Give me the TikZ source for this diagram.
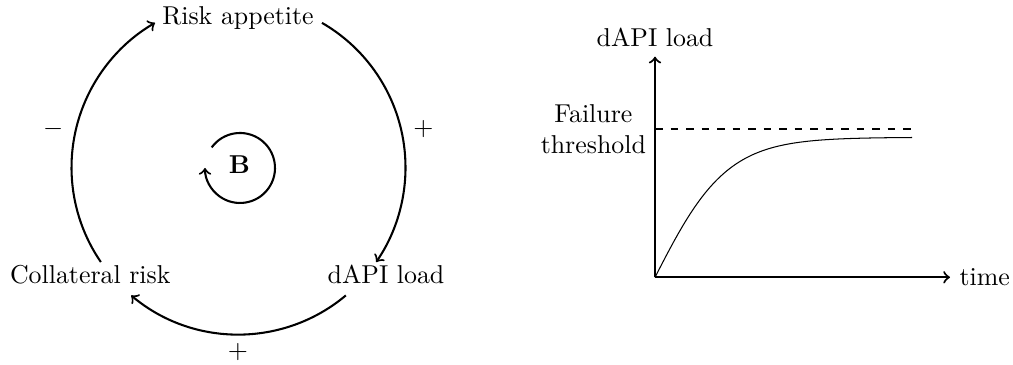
\documentclass[tikz,border=0pt]{standalone}
\usetikzlibrary{calc}
\begin{document}
\begin{tikzpicture}[x=0.013594cm,y=0.013594cm,
  link/.style={thick,->},
  axisline/.style={thick,->},
  lbl/.style={inner sep=0pt},
]
\useasboundingbox (0,0) rectangle (1013,365);
% ---------- causal loop ----------
\coordinate (o) at (238.5,197.5);
\node[lbl,anchor=base] (ra) at (238,340) {Risk appetite};
\node[lbl,anchor=base] (cr) at (90.3,81.7) {Collateral risk};
\node[lbl,anchor=base] (dl) at (386,81.7) {dAPI load};
\node[lbl,anchor=base] (bl) at (239.5,191.7) {\textbf{B}};
\node[lbl] (m1) at (53.3,236) {$-$};
\node[lbl] (p1) at (423.3,236) {$+$};
\node[lbl] (p2) at (238,12.7) {$+$};
\coordinate (raout) at ($(o)+(60:167)$);
\coordinate (dlout) at ($(o)+(-50:167)$);
\coordinate (crout) at ($(o)+(214.5:167)$);
\draw[link] (raout) arc[start angle=60,end angle=-34.5,radius=167];
\draw[link] (dlout) arc[start angle=-50,end angle=-130,radius=167];
\draw[link] (crout) arc[start angle=214.5,end angle=120,radius=167];
\coordinate (bc) at (240,197);
\coordinate (bstart) at ($(bc)+(144:35)$);
\draw[link] (bstart) arc[start angle=144,end angle=-180,radius=35];
% ---------- graph ----------
\coordinate (O) at (655,87.7);
\coordinate (ytip) at (655,308.3);
\coordinate (xtip) at (950,87.7);
\coordinate (thr) at (655,235.7);
\coordinate (thrend) at (912.3,235.7);
\draw[axisline] (O) -- (ytip) node[above] (yl) {dAPI load};
\draw[axisline] (O) -- (xtip) node[right] (xl) {time};
\draw[thick,dashed] (thr) -- (thrend);
\node[left,align=center] (ft) at (thr) {Failure\\threshold};
\draw[line width=0.4pt] plot[domain=0:257,samples=80,smooth] ({655+\x},{87.7+140*tanh(\x/72)});
\end{tikzpicture}
\end{document}
